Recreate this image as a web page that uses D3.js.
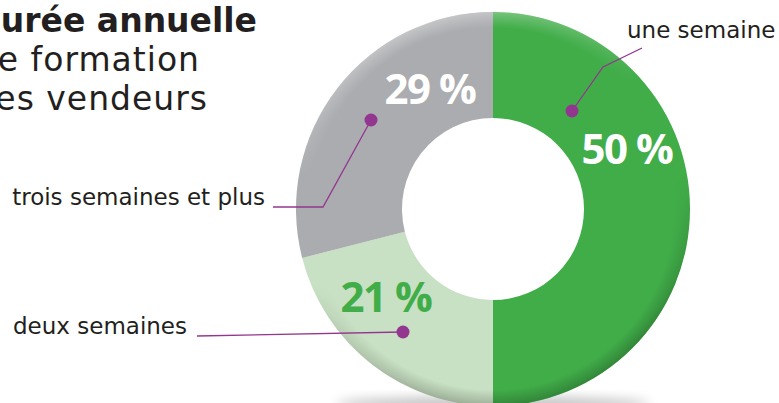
<!DOCTYPE html>
<html>
<head>
<meta charset="utf-8">
<script src="https://cdn.jsdelivr.net/npm/d3@7"></script>
<style>
  body { margin: 0; background: #fff; }
  svg { display: block; font-family: "DejaVu Sans", "Open Sans", sans-serif; }
</style>
</head>
<body>
<div id="chart"></div>
<script>
// data
var categories = ["une semaine", "deux semaines", "trois semaines et plus"];
var values = [50, 21, 29];
var sliceColors = ["#41ad49", "#c8e0c3", "#abacaf"];
var valueColors = ["#ffffff", "#41ad49", "#ffffff"];
var titleLines = ["Durée annuelle", "de formation", "des vendeurs"];

var width = 779, height = 403;
var cx = 493, cy = 209, outerR = 197, innerR = 91;

var svg = d3.select("#chart").append("svg")
    .attr("width", width)
    .attr("height", height);

var defs = svg.append("defs");

var blur = defs.append("filter").attr("id", "blur")
    .attr("x", "-50%").attr("y", "-50%").attr("width", "200%").attr("height", "200%");
blur.append("feGaussianBlur").attr("stdDeviation", 6);

// lighter top edge, darker bottom edge
var rim = defs.append("linearGradient").attr("id", "rim")
    .attr("x1", 0).attr("y1", 0).attr("x2", 0.3).attr("y2", 1);
rim.append("stop").attr("offset", "0%").attr("stop-color", "#fff").attr("stop-opacity", 0.45);
rim.append("stop").attr("offset", "40%").attr("stop-color", "#fff").attr("stop-opacity", 0);
rim.append("stop").attr("offset", "65%").attr("stop-color", "#000").attr("stop-opacity", 0);
rim.append("stop").attr("offset", "100%").attr("stop-color", "#000").attr("stop-opacity", 0.22);

// soft shadow under the ring
svg.append("ellipse")
    .attr("cx", cx).attr("cy", cy + outerR - 2)
    .attr("rx", outerR * 0.8).attr("ry", 7)
    .attr("fill", "#000").attr("opacity", 0.25)
    .attr("filter", "url(#blur)");

var pie = d3.pie().sort(null).value(function (d) { return d; });
var arcs = pie(values);

var arc = d3.arc().innerRadius(innerR).outerRadius(outerR);

var g = svg.append("g").attr("transform", "translate(" + cx + "," + cy + ")");

g.selectAll("path.slice")
    .data(arcs)
    .enter().append("path")
    .attr("class", "slice")
    .attr("d", arc)
    .attr("fill", function (d, i) { return sliceColors[i]; });

// rim shading
var rimArc = d3.arc().innerRadius(outerR - 16).outerRadius(outerR)
    .startAngle(0).endAngle(2 * Math.PI);
var rimMask = defs.append("radialGradient").attr("id", "rimfade")
    .attr("gradientUnits", "userSpaceOnUse")
    .attr("cx", 0).attr("cy", 0).attr("r", outerR);
rimMask.append("stop").attr("offset", (outerR - 16) / outerR).attr("stop-color", "#fff").attr("stop-opacity", 0);
rimMask.append("stop").attr("offset", "100%").attr("stop-color", "#fff").attr("stop-opacity", 1);
var mask = defs.append("mask").attr("id", "rimmask");
mask.append("path").attr("d", rimArc()).attr("transform", "translate(" + cx + "," + cy + ")")
    .attr("fill", "url(#rimfade)");
svg.append("rect")
    .attr("x", cx - outerR).attr("y", cy - outerR)
    .attr("width", outerR * 2).attr("height", outerR * 2)
    .attr("fill", "url(#rim)")
    .attr("mask", "url(#rimmask)");

// percentage labels
var labelPos = [[627, 149], [386, 297], [430, 89]];
g.selectAll("text.pct")
    .data(arcs)
    .enter().append("text")
    .attr("class", "pct")
    .attr("x", function (d, i) { return labelPos[i][0] - cx; })
    .attr("y", function (d, i) { return labelPos[i][1] - cy; })
    .attr("dy", "0.36em")
    .attr("text-anchor", "middle")
    .attr("font-family", "'Open Sans', sans-serif")
    .attr("font-size", 42)
    .attr("font-weight", 700)
    .attr("letter-spacing", -1.5)
    .attr("fill", function (d, i) { return valueColors[i]; })
    .text(function (d) { return d.data + " %"; });

// leader lines
var leaders = [
    { pts: [[642, 48], [603, 67], [572, 111]], text: [627, 38, "start"] },
    { pts: [[197, 336], [403, 332]], text: [187, 334, "end"] },
    { pts: [[273, 207], [323, 207], [371, 120]], text: [265, 205, "end"] }
];
var line = d3.line();
leaders.forEach(function (l, i) {
    svg.append("path")
        .attr("d", line(l.pts))
        .attr("fill", "none")
        .attr("stroke", "#93368f")
        .attr("stroke-width", 1.3);
    var dot = l.pts[l.pts.length - 1];
    svg.append("circle")
        .attr("cx", dot[0]).attr("cy", dot[1]).attr("r", 6.5)
        .attr("fill", "#93368f");
    svg.append("text")
        .attr("x", l.text[0]).attr("y", l.text[1])
        .attr("text-anchor", l.text[2])
        .attr("font-size", 23)
        .attr("fill", "#231f20")
        .text(categories[i]);
});

// title (cropped on the left, as in the source)
var titleEnd = [257, 200, 208];
svg.selectAll("text.title")
    .data(titleLines)
    .enter().append("text")
    .attr("class", "title")
    .attr("x", function (d, i) { return titleEnd[i]; })
    .attr("y", function (d, i) { return 32 + i * 39; })
    .attr("text-anchor", "end")
    .attr("font-size", 33)
    .attr("letter-spacing", function (d, i) { return i === 0 ? 0 : 1; })
    .attr("font-weight", function (d, i) { return i === 0 ? 700 : 400; })
    .attr("fill", "#231f20")
    .text(function (d) { return d; });
</script>
</body>
</html>
